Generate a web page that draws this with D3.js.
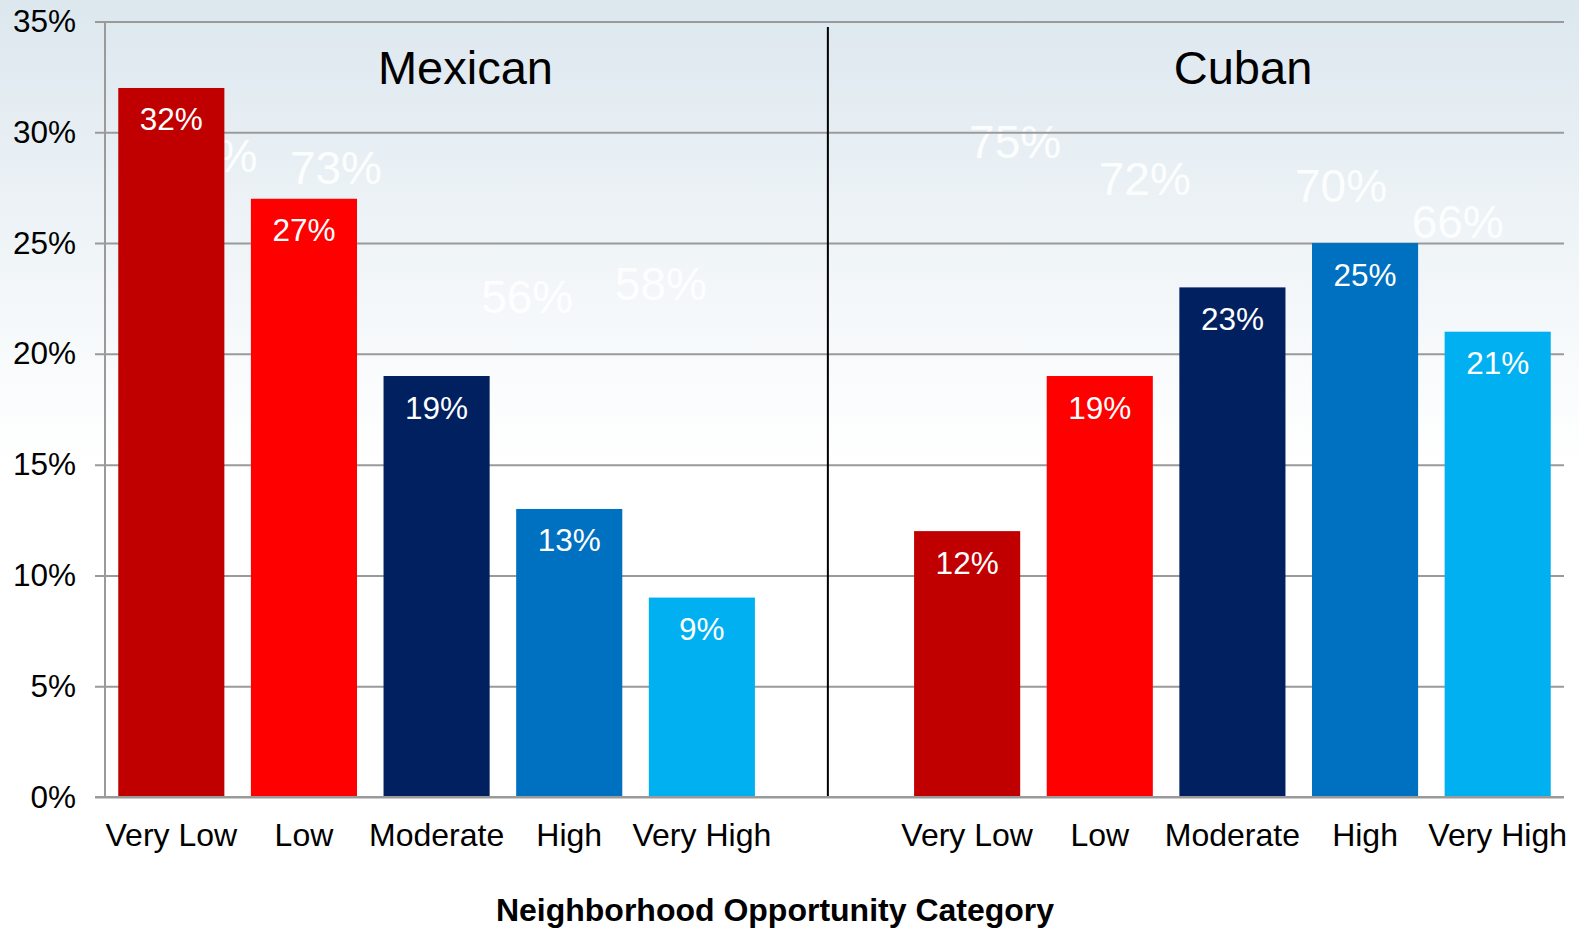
<!DOCTYPE html>
<html>
<head>
<meta charset="utf-8">
<script src="https://cdn.jsdelivr.net/npm/d3@7"></script>
<style>
  html, body { margin: 0; padding: 0; background: #ffffff; }
  svg { display: block; font-family: Arial, "Liberation Sans", Helvetica, sans-serif; }
</style>
</head>
<body>
<svg id="chart" width="1579" height="930"></svg>
<script>
// Share of households by neighborhood opportunity category
const categories = ["Very Low", "Low", "Moderate", "High", "Very High"];
const groups = ["Mexican", "Cuban"];
const mexicanValues = [32, 27, 19, 13, 9];
const cubanValues = [12, 19, 23, 25, 21];
const barColors = ["#C00000", "#FF0000", "#002060", "#0070C0", "#00B0F0"];
const yTicks = [0, 5, 10, 15, 20, 25, 30, 35];
const xAxisTitle = "Neighborhood Opportunity Category";

// Secondary (white) percentage labels printed in the plot background
const mexicanOverlay = [
  { category: "Very Low", value: 74 },
  { category: "Low", value: 73 },
  { category: "High", value: 56 },
  { category: "Very High", value: 58 }
];
const cubanOverlay = [
  { category: "Very Low", value: 75 },
  { category: "Low", value: 72 },
  { category: "High", value: 70 },
  { category: "Very High", value: 66 }
];

const svg = d3.select("#chart");
const W = 1579, H = 930;
const plot = { left: 105, right: 1564, top: 21.5, bottom: 797 };

// Background gradient
const defs = svg.append("defs");
const grad = defs.append("linearGradient")
  .attr("id", "bg").attr("x1", 0).attr("y1", 0).attr("x2", 0).attr("y2", 1);
grad.append("stop").attr("offset", "0%").attr("stop-color", "#dce7ee");
grad.append("stop").attr("offset", "22%").attr("stop-color", "#ecf2f6");
grad.append("stop").attr("offset", "40%").attr("stop-color", "#f9fbfc");
grad.append("stop").attr("offset", "50%").attr("stop-color", "#ffffff");
grad.append("stop").attr("offset", "100%").attr("stop-color", "#ffffff");
svg.append("rect").attr("width", W).attr("height", H).attr("fill", "url(#bg)");

// Slots: five Mexican categories, one spacer, five Cuban categories
const slotKeys = [
  ...categories.map(c => "Mexican|" + c),
  "spacer",
  ...categories.map(c => "Cuban|" + c)
];
const x = d3.scaleBand()
  .domain(slotKeys)
  .range([plot.left, plot.right])
  .paddingInner(0.2)
  .paddingOuter(0.1);

const y = d3.scaleLinear().domain([0, 35]).range([plot.bottom, plot.top]);

// Placement of the background labels
const overlayY = d3.scaleLinear().domain([56, 75]).range([315.6, 164]);
const overlayShift = {
  "Mexican|Very Low": [40, 0], "Mexican|Low": [32, 4], "Mexican|High": [-42, -3], "Mexican|Very High": [-41, 0],
  "Cuban|Very Low": [48, -6], "Cuban|Low": [45, 7], "Cuban|High": [-24, -2], "Cuban|Very High": [-40, 2]
};
const overlay = [
  ...mexicanOverlay.map(d => ({ ...d, key: "Mexican|" + d.category })),
  ...cubanOverlay.map(d => ({ ...d, key: "Cuban|" + d.category }))
];
svg.append("g").selectAll("text").data(overlay).join("text")
  .attr("x", d => x(d.key) + x.bandwidth() / 2 + overlayShift[d.key][0])
  .attr("y", d => overlayY(d.value) + overlayShift[d.key][1])
  .attr("text-anchor", "middle")
  .attr("font-size", 46)
  .attr("fill", "#ffffff")
  .attr("fill-opacity", 0.9)
  .text(d => d.value + "%");

// Y axis with gridlines
const tickStart = plot.left - 10;
const yAxis = d3.axisLeft(y)
  .tickValues(yTicks)
  .tickFormat(d => d + "%")
  .tickSizeInner(-(plot.right - tickStart))
  .tickSizeOuter(0)
  .tickPadding(19);
const gy = svg.append("g").attr("transform", `translate(${tickStart},0)`).call(yAxis);
gy.select(".domain").remove();
gy.selectAll(".tick line").attr("stroke", "#9a9a9a").attr("stroke-width", 2);
gy.selectAll(".tick text")
  .attr("font-size", 31.5)
  .attr("fill", "#000000")
  .attr("font-family", 'Arial, "Liberation Sans", sans-serif');

// Vertical axis line
svg.append("line")
  .attr("x1", plot.left).attr("x2", plot.left)
  .attr("y1", y(35)).attr("y2", y(0))
  .attr("stroke", "#9a9a9a").attr("stroke-width", 2);

// Group divider
const dividerX = x("spacer") + x.step() * 0.35;
svg.append("line")
  .attr("x1", dividerX).attr("x2", dividerX)
  .attr("y1", 27).attr("y2", y(0))
  .attr("stroke", "#000000").attr("stroke-width", 2);

// Bars
const bars = [
  ...mexicanValues.map((v, i) => ({ key: "Mexican|" + categories[i], value: v, color: barColors[i] })),
  ...cubanValues.map((v, i) => ({ key: "Cuban|" + categories[i], value: v, color: barColors[i] }))
];
svg.append("g").selectAll("rect").data(bars).join("rect")
  .attr("x", d => x(d.key))
  .attr("y", d => y(d.value))
  .attr("width", x.bandwidth())
  .attr("height", d => y(0) - y(d.value))
  .attr("fill", d => d.color);

// Zero line over bar bottoms
svg.append("line")
  .attr("x1", tickStart).attr("x2", plot.right)
  .attr("y1", y(0)).attr("y2", y(0))
  .attr("stroke", "#9a9a9a").attr("stroke-width", 2);

// Value labels inside bars
svg.append("g").selectAll("text").data(bars).join("text")
  .attr("x", d => x(d.key) + x.bandwidth() / 2)
  .attr("y", d => y(d.value) + 42.5)
  .attr("text-anchor", "middle")
  .attr("font-size", 31.5)
  .attr("fill", "#ffffff")
  .text(d => d.value + "%");

// Category labels
svg.append("g").selectAll("text").data(slotKeys.filter(k => k !== "spacer")).join("text")
  .attr("x", k => x(k) + x.bandwidth() / 2)
  .attr("y", y(0) + 49)
  .attr("text-anchor", "middle")
  .attr("font-size", 32)
  .attr("fill", "#000000")
  .text(k => k.split("|")[1]);

// Group titles
const mexSpan = [plot.left, dividerX];
const cubSpan = [x("Cuban|Very Low"), plot.right];
svg.append("g").selectAll("text").data(groups).join("text")
  .attr("x", g => g === "Mexican" ? (mexSpan[0] + mexSpan[1]) / 2 - 1 : (cubSpan[0] + cubSpan[1]) / 2 + 4)
  .attr("y", 83.5)
  .attr("text-anchor", "middle")
  .attr("font-size", 47)
  .attr("fill", "#000000")
  .text(g => g);

// X axis title
svg.append("text")
  .attr("x", 775)
  .attr("y", 921)
  .attr("text-anchor", "middle")
  .attr("font-size", 32)
  .attr("font-weight", "bold")
  .attr("fill", "#000000")
  .text(xAxisTitle);
</script>
</body>
</html>
